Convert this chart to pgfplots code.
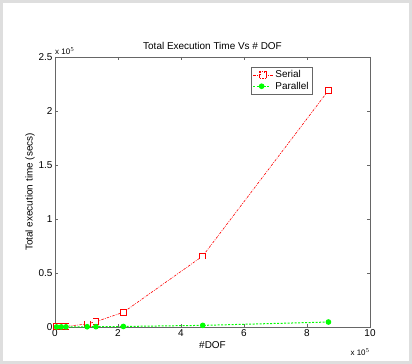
\documentclass[border=0pt]{standalone}
\usepackage{pgfplots}
\pgfplotsset{compat=1.18}
\usepackage{fontspec}
\setmainfont{Liberation Sans}
\definecolor{mred}{RGB}{255,0,0}
\definecolor{mgreen}{RGB}{0,255,0}
\pgfdeclareplotmark{fsq}{%
  \pgfpathrectangle{\pgfpoint{-\pgfplotmarksize}{-\pgfplotmarksize}}{\pgfpoint{2\pgfplotmarksize}{2\pgfplotmarksize}}%
  \pgfusepathqfill}
\pgfplotstableread{
x y
5000 100
20000 300
35000 600
102000 2800
130000 5000
217000 13600
469000 65700
868000 219000
}\serial
\pgfplotstableread{
x y
5000 50
20000 80
35000 120
102000 250
130000 300
217000 500
469000 1500
868000 4600
}\parallel
\begin{document}
\begin{tikzpicture}[x=1bp,y=1bp]
\path[use as bounding box] (0,0) rectangle (412,364);
\fill[black!13] (0,0) rectangle (412,364);
\fill[white] (3,3) rectangle (409,361);
\begin{axis}[
  at={(55bp,37bp)}, anchor=south west,
  scale only axis, width=315bp, height=270bp,
  xmin=0, xmax=1000000, ymin=0, ymax=250000,
  xtick={0,200000,400000,600000,800000,1000000},
  xticklabels={0,2,4,6,8,10},
  ytick={0,50000,100000,150000,200000,250000},
  yticklabels={0,0.5,1,1.5,2,2.5},
  scaled ticks=false,
  tick align=inside, major tick length=3bp,
  axis line style={black!60}, tick style={black!60},
  every tick label/.append style={font=\fontsize{10}{11}\selectfont},
  xticklabel style={yshift=1bp},
  yticklabel style={xshift=1bp},
  title={Total Execution Time Vs \# DOF},
  title style={font=\fontsize{10}{11}\selectfont, yshift=-2bp},
  xlabel={\#DOF},
  xlabel style={font=\fontsize{10}{11}\selectfont, yshift=2bp},
  ylabel={Total execution time (secs)},
  ylabel style={font=\fontsize{10}{11}\selectfont, yshift=-3bp},
  legend style={at={(0.622,0.963)}, anchor=north west, draw=black!60,
    font=\fontsize{10}{11}\selectfont, row sep=-1.5bp, inner sep=1.5bp},
  legend cell align=left,
  clip=false,
]
\addplot[color=mred, line width=0.6bp, dash pattern=on 2.5bp off 1.2bp on 0.8bp off 1.2bp,
  mark=fsq, mark size=3.4bp, mark options={solid, fill=mred},
  legend image code/.code={
    \draw[mred, line width=0.6bp, dash pattern=on 2.5bp off 1.2bp on 0.8bp off 1.2bp] (0bp,0bp) -- (20bp,0bp);
    \fill[mred] (6.6bp,-3.4bp) rectangle (13.4bp,3.4bp);
    \fill[white] (7.5bp,-2.5bp) rectangle (12.5bp,2.5bp);}]
  table[x=x, y=y] {\serial};
\addlegendentry{Serial}
\addplot[only marks, forget plot, mark=fsq, mark size=2.5bp,
  mark options={solid, fill=white}]
  table[x=x, y=y] {\serial};
\addplot[color=mgreen, line width=1bp, dash pattern=on 2bp off 1.5bp,
  mark=*, mark size=2.3bp, mark options={solid, draw=none, fill=mgreen}]
  table[x=x, y=y] {\parallel};
\addlegendentry{Parallel}
\node[anchor=south west, font=\fontsize{8}{9}\selectfont, inner sep=0pt]
  at (axis description cs:0.0,1.01) {x 10$^{5}$};
\node[anchor=north east, font=\fontsize{8}{9}\selectfont, inner sep=0pt]
  at (axis description cs:1.0,-0.08) {x 10$^{5}$};
\end{axis}
\end{tikzpicture}
\end{document}
